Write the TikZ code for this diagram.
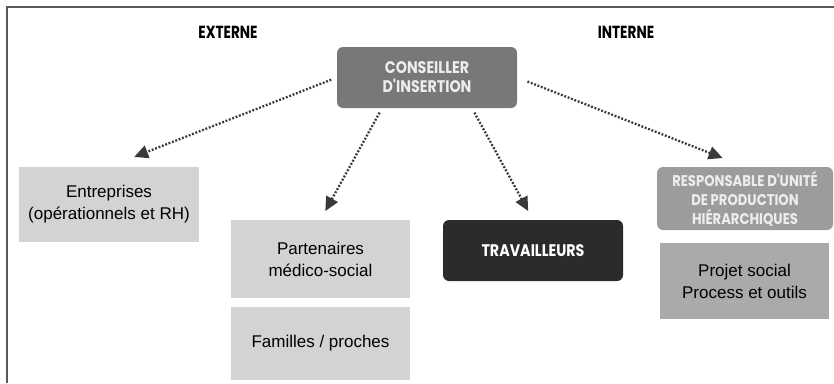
\documentclass[tikz,border=0pt]{standalone}
\usepackage{fontspec}
\setmainfont{Liberation Sans}
\newfontfamily\capfont[FakeStretch=0.85]{Poppins}
\newfontfamily\headfont[FakeStretch=0.78]{Poppins}
\usetikzlibrary{arrows.meta,decorations.pathmorphing}
\definecolor{lightbox}{HTML}{D3D3D3}
\definecolor{midbox}{HTML}{AAAAAA}
\definecolor{consbox}{HTML}{787878}
\definecolor{respbox}{HTML}{9C9C9C}
\definecolor{darkbox}{HTML}{2B2B2B}
\definecolor{dotline}{HTML}{3A3A3A}
\begin{document}
\begin{tikzpicture}[x=1pt, y=-1pt,
  every node/.style={inner sep=0pt, align=center},
  flatbox/.style={fill=lightbox, font=\fontsize{17}{22}\selectfont},
  roundbox/.style={rounded corners=6pt, text=white!93!black,
    font=\capfont\bfseries\fontsize{15.5}{19}\selectfont},
  bigcaps/.style={font=\capfont\bfseries\fontsize{16.8}{19}\selectfont},
  heading/.style={font=\headfont\bfseries\fontsize{17.5}{18}\selectfont},
  link/.style={draw=dotline, line width=2.3pt, dash pattern=on 1.9pt off 1.7pt,
    -{Triangle[length=14pt, width=13pt, fill=dotline]}}]
  \useasboundingbox (0,0) rectangle (834,383);

  % Frame
  \draw[line width=2pt, gray!70!black] (6.5,383) -- (6.5,6.5) -- (834,6.5);

  % Headings
  \node[heading] (ext) at (228,32) {EXTERNE};
  \node[heading] (int) at (626,32) {INTERNE};

  % Centre
  \node[roundbox, bigcaps, fill=consbox, minimum width=180pt, minimum height=61pt] (cons) at (427,77.5)
    {\raisebox{-3pt}{CONSEILLER}\\\raisebox{-3pt}{D'INSERTION}};

  % Externe
  \node[flatbox, minimum width=180pt, minimum height=75pt] (entr) at (109,204.5)
    {Entreprises\\(opérationnels et RH)};
  \node[flatbox, minimum width=179pt, minimum height=78pt] (part) at (320.5,259)
    {Partenaires\\médico-social};
  \node[flatbox, minimum width=179pt, minimum height=73pt] (fam) at (320.5,343.5)
    {Familles / proches};

  % Travailleurs
  \node[roundbox, bigcaps, fill=darkbox, text=white, minimum width=180pt, minimum height=61pt] (trav) at (533,250.5)
    {TRAVAILLEURS};

  % Interne
  \node[roundbox, fill=respbox, minimum width=176pt, minimum height=63pt] (resp) at (745,198.5)
    {RESPONSABLE D'UNITÉ\\DE PRODUCTION\\HIÉRARCHIQUES};
  \node[flatbox, fill=midbox, minimum width=169pt, minimum height=76pt] (proj) at (744.5,281)
    {Projet social\\Process et outils};
  \draw[gray!60, line width=0.6pt, decorate,
    decoration={snake, amplitude=0.8pt, segment length=3pt}] (684,302) -- (747,302);

  % Arrows
  \draw[link, shorten <=6pt, shorten >=27pt] (cons.west) -- (entr.north);
  \draw[link, shorten <=5pt, shorten >=10pt] ([xshift=-45pt]cons.south) -- (part.north);
  \draw[link, shorten <=5pt, shorten >=10pt] ([xshift=45pt]cons.south) -- (trav.north);
  \draw[link, shorten <=11pt, shorten >=24pt] (cons.east) -- (resp.north);
\end{tikzpicture}
\end{document}
